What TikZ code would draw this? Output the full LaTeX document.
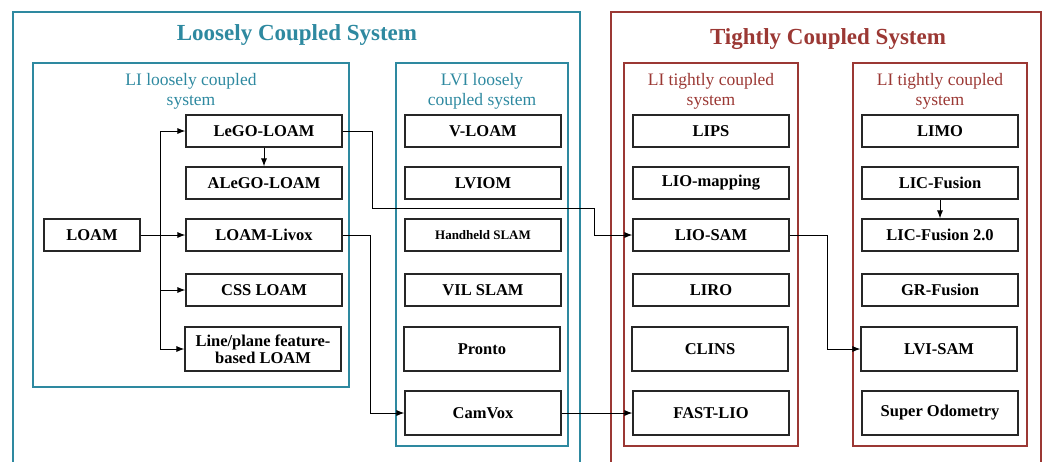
\documentclass[tikz,border=0pt]{standalone}
\usepackage{fontspec}
\setmainfont{Liberation Serif}
\usetikzlibrary{arrows.meta}
\definecolor{teal1}{RGB}{46,137,160}
\definecolor{rust}{RGB}{155,56,52}
\begin{document}
\begin{tikzpicture}[x=1pt,y=-1pt,
  algo/.style={draw=black!85, line width=1.1pt, fill=white, minimum width=156pt,
    minimum height=32pt, inner sep=0pt, align=center,
    font=\bfseries\fontsize{16.5}{17}\selectfont},
  tall/.style={minimum height=44pt},
  groupbox/.style={line width=2.2pt},
  maintitle/.style={font=\bfseries\fontsize{23}{26}\selectfont},
  subtitle/.style={align=center, font=\fontsize{17.5}{20}\selectfont},
  arr/.style={line width=1pt, -{Latex[length=8pt,width=6pt]}}
]
\useasboundingbox (0,0) rectangle (1046,461);
\clip (0,0) rectangle (1046,461);

% system frames
\draw[groupbox, teal1] (13,12) rectangle (580,480);
\draw[groupbox, rust] (611,12) rectangle (1041,480);
\node[maintitle, text=teal1] (tloose) at (297,35) {Loosely Coupled System};
\node[maintitle, text=rust] (ttight) at (828,39) {Tightly Coupled System};

% group frames
\draw[groupbox, teal1] (33,63) rectangle (349,387);
\draw[groupbox, teal1] (396,63) rectangle (568,446);
\draw[groupbox, rust] (624,63) rectangle (798,446);
\draw[groupbox, rust] (853,63) rectangle (1027,446);
\node[subtitle, text=teal1] (g1) at (191,91) {LI loosely coupled\\system};
\node[subtitle, text=teal1] (g2) at (482,91) {LVI loosely\\coupled system};
\node[subtitle, text=rust] (g3) at (711,91) {LI tightly coupled\\system};
\node[subtitle, text=rust] (g4) at (940,91) {LI tightly coupled\\system};

% LI loosely coupled
\node[algo, minimum width=96pt] (loam) at (92,235) {LOAM};
\node[algo] (lego) at (264,131) {LeGO-LOAM};
\node[algo] (alego) at (264,183) {ALeGO-LOAM};
\node[algo] (livox) at (264,235) {LOAM-Livox};
\node[algo] (css) at (264,290) {CSS LOAM};
\node[algo, tall] (line) at (263,349) {Line/plane feature-\\based LOAM};

% LVI loosely coupled
\node[algo] (vloam) at (483,131) {V-LOAM};
\node[algo] (lviom) at (483,183) {LVIOM};
\node[algo, font=\bfseries\fontsize{13}{14}\selectfont] (hand) at (483,235) {Handheld SLAM};
\node[algo] (vil) at (483,290) {VIL SLAM};
\node[algo, tall] (pronto) at (482,349) {Pronto};
\node[algo, tall] (camvox) at (483,413) {CamVox};

% LI tightly coupled (left)
\node[algo] (lips) at (711,131) {LIPS};
\node[algo] (liomap) at (711,183) {LIO-mapping};
\node[algo] (liosam) at (711,235) {LIO-SAM};
\node[algo] (liro) at (711,290) {LIRO};
\node[algo, tall] (clins) at (710,349) {CLINS};
\node[algo, tall] (fastlio) at (711,413) {FAST-LIO};

% LI tightly coupled (right)
\node[algo] (limo) at (940,131) {LIMO};
\node[algo] (licf) at (940,183) {LIC-Fusion};
\node[algo] (licf2) at (940,235) {LIC-Fusion 2.0};
\node[algo] (gr) at (940,290) {GR-Fusion};
\node[algo, tall] (lvisam) at (939,349) {LVI-SAM};
\node[algo, tall] (superodo) at (940,413) {Super Odometry};

% derivations
\draw[arr] (loam.east) -- (livox.west);
\draw[arr] (loam.east) -- ++(20,0) |- (lego.west);
\draw[arr] (loam.east) -- ++(20,0) |- (css.west);
\draw[arr] (loam.east) -- ++(20,0) |- (line.west);
\draw[arr] (lego.south) -- (alego.north);
\draw[arr] (licf.south) -- (licf2.north);
\draw[arr] (lego.east) -- ++(30,0) |- (594,208) |- (liosam.west);
\draw[arr] (livox.east) -- ++(28,0) |- (camvox.west);
\draw[arr] (camvox.east) -- (fastlio.west);
\draw[arr] (liosam.east) -- ++(38,0) |- (lvisam.west);
\end{tikzpicture}
\end{document}
